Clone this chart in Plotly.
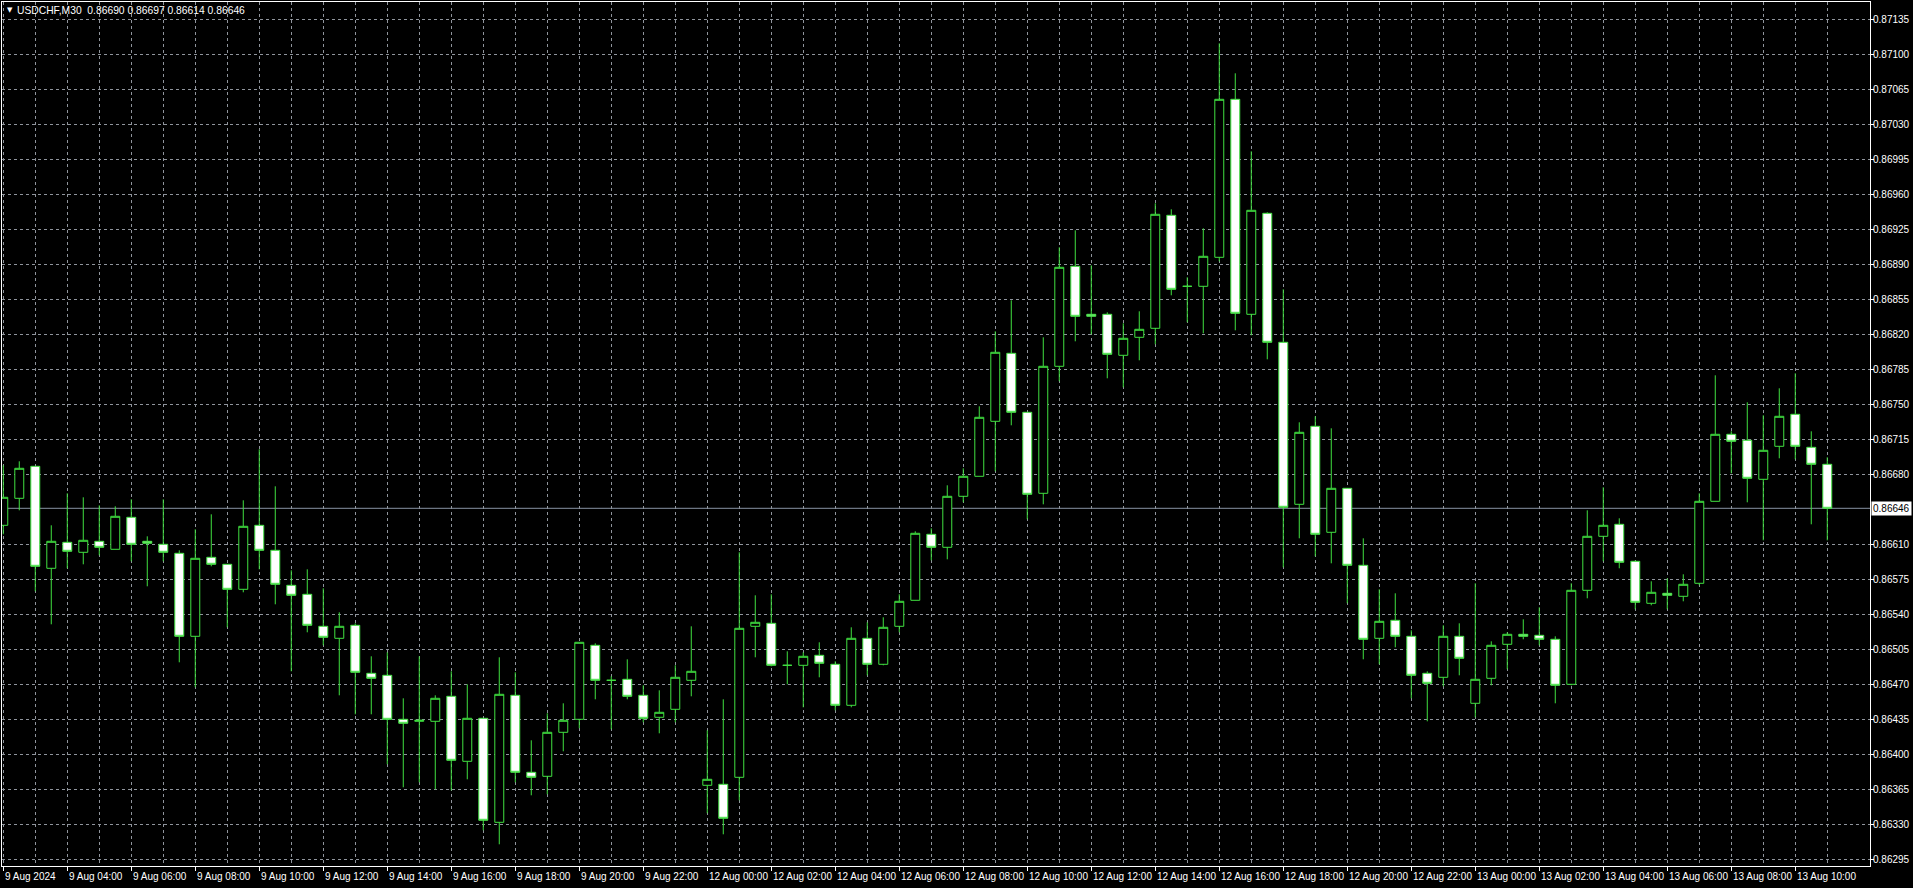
import pandas as pd
import plotly.graph_objects as go

symbol_title = "USDCHF,M30"

# 30-minute bars: Friday 9 Aug 02:00-23:30, then Monday 12 Aug 00:00 - Tuesday 13 Aug 11:00
session1 = pd.date_range("2024-08-09 02:00", "2024-08-09 23:30", freq="30min")
session2 = pd.date_range("2024-08-12 00:00", "2024-08-13 11:00", freq="30min")
bar_times = list(session1) + list(session2)

open_ = [0.86629, 0.86656, 0.86688, 0.86586, 0.86612, 0.86602, 0.86613, 0.86605, 0.86637, 0.86613,
         0.86610, 0.86601, 0.86518, 0.86597, 0.86590, 0.86565, 0.86629, 0.86604, 0.86569, 0.86560,
         0.86528, 0.86516, 0.86529, 0.86481, 0.86479, 0.86435, 0.86433, 0.86433, 0.86458, 0.86393,
         0.86436, 0.86332, 0.86459, 0.86382, 0.86378, 0.86422, 0.86435, 0.86509, 0.86474, 0.86475,
         0.86459, 0.86437, 0.86445, 0.86474, 0.86369, 0.86370, 0.86377, 0.86528, 0.86531, 0.86489,
         0.86489, 0.86499, 0.86490, 0.86449, 0.86516, 0.86490, 0.86528, 0.86554, 0.86620, 0.86607,
         0.86658, 0.86678, 0.86733, 0.86801, 0.86742, 0.86661, 0.86788, 0.86888, 0.86840, 0.86840,
         0.86799, 0.86817, 0.86826, 0.86939, 0.86868, 0.86868, 0.86897, 0.87055, 0.86840, 0.86941,
         0.86812, 0.86650, 0.86728, 0.86622, 0.86666, 0.86589, 0.86516, 0.86534, 0.86518, 0.86481,
         0.86477, 0.86518, 0.86451, 0.86476, 0.86510, 0.86520, 0.86519, 0.86515, 0.86470, 0.86564,
         0.86618, 0.86630, 0.86593, 0.86551, 0.86561, 0.86558, 0.86571, 0.86653, 0.86720, 0.86714,
         0.86675, 0.86708, 0.86740, 0.86707, 0.86690]
high = [0.86689, 0.86693, 0.86688, 0.86629, 0.86661, 0.86657, 0.86649, 0.86648, 0.86655, 0.86618,
        0.86655, 0.86604, 0.86625, 0.86640, 0.86590, 0.86654, 0.86705, 0.86668, 0.86584, 0.86585,
        0.86566, 0.86542, 0.86531, 0.86498, 0.86502, 0.86456, 0.86498, 0.86459, 0.86483, 0.86470,
        0.86436, 0.86497, 0.86482, 0.86414, 0.86441, 0.86451, 0.86512, 0.86511, 0.86478, 0.86495,
        0.86469, 0.86464, 0.86489, 0.86528, 0.86424, 0.86455, 0.86602, 0.86559, 0.86560, 0.86503,
        0.86502, 0.86512, 0.86493, 0.86527, 0.86532, 0.86537, 0.86560, 0.86623, 0.86626, 0.86669,
        0.86686, 0.86748, 0.86823, 0.86854, 0.86742, 0.86817, 0.86907, 0.86924, 0.86889, 0.86842,
        0.86831, 0.86843, 0.86951, 0.86945, 0.86877, 0.86926, 0.87111, 0.87081, 0.87003, 0.86942,
        0.86865, 0.86732, 0.86738, 0.86726, 0.86666, 0.86616, 0.86565, 0.86561, 0.86524, 0.86483,
        0.86529, 0.86531, 0.86571, 0.86513, 0.86522, 0.86535, 0.86547, 0.86518, 0.86571, 0.86644,
        0.86667, 0.86636, 0.86594, 0.86573, 0.86576, 0.86580, 0.86661, 0.86779, 0.86723, 0.86752,
        0.86739, 0.86766, 0.86781, 0.86723, 0.86697]
low = [0.86620, 0.86644, 0.86563, 0.86530, 0.86586, 0.86590, 0.86599, 0.86605, 0.86593, 0.86568,
       0.86593, 0.86492, 0.86467, 0.86588, 0.86527, 0.86562, 0.86585, 0.86550, 0.86483, 0.86522,
       0.86509, 0.86459, 0.86440, 0.86440, 0.86390, 0.86367, 0.86372, 0.86365, 0.86364, 0.86375,
       0.86324, 0.86310, 0.86372, 0.86359, 0.86360, 0.86403, 0.86426, 0.86455, 0.86425, 0.86455,
       0.86432, 0.86421, 0.86432, 0.86458, 0.86341, 0.86320, 0.86354, 0.86497, 0.86488, 0.86470,
       0.86447, 0.86477, 0.86444, 0.86447, 0.86479, 0.86489, 0.86522, 0.86554, 0.86594, 0.86595,
       0.86652, 0.86678, 0.86683, 0.86729, 0.86635, 0.86650, 0.86773, 0.86813, 0.86820, 0.86776,
       0.86767, 0.86794, 0.86810, 0.86859, 0.86832, 0.86821, 0.86893, 0.86824, 0.86819, 0.86795,
       0.86587, 0.86616, 0.86598, 0.86591, 0.86551, 0.86495, 0.86490, 0.86507, 0.86456, 0.86433,
       0.86468, 0.86479, 0.86437, 0.86469, 0.86485, 0.86515, 0.86509, 0.86451, 0.86469, 0.86556,
       0.86593, 0.86586, 0.86545, 0.86549, 0.86545, 0.86553, 0.86569, 0.86653, 0.86681, 0.86652,
       0.86614, 0.86696, 0.86695, 0.86630, 0.86614]
close = [0.86657, 0.86686, 0.86588, 0.86613, 0.86603, 0.86614, 0.86607, 0.86638, 0.86610, 0.86611,
         0.86602, 0.86518, 0.86596, 0.86590, 0.86565, 0.86628, 0.86604, 0.86570, 0.86559, 0.86529,
         0.86517, 0.86528, 0.86482, 0.86476, 0.86435, 0.86431, 0.86434, 0.86456, 0.86394, 0.86436,
         0.86334, 0.86460, 0.86382, 0.86377, 0.86422, 0.86434, 0.86512, 0.86474, 0.86474, 0.86458,
         0.86436, 0.86442, 0.86477, 0.86483, 0.86375, 0.86336, 0.86526, 0.86532, 0.86489, 0.86489,
         0.86498, 0.86491, 0.86449, 0.86516, 0.86490, 0.86527, 0.86553, 0.86621, 0.86607, 0.86658,
         0.86678, 0.86737, 0.86802, 0.86742, 0.86660, 0.86788, 0.86887, 0.86838, 0.86838, 0.86800,
         0.86816, 0.86825, 0.86940, 0.86865, 0.86868, 0.86898, 0.87055, 0.86841, 0.86944, 0.86812,
         0.86647, 0.86722, 0.86620, 0.86666, 0.86589, 0.86515, 0.86533, 0.86518, 0.86479, 0.86471,
         0.86518, 0.86496, 0.86475, 0.86509, 0.86520, 0.86518, 0.86515, 0.86469, 0.86564, 0.86618,
         0.86629, 0.86592, 0.86552, 0.86562, 0.86559, 0.86570, 0.86653, 0.86720, 0.86713, 0.86676,
         0.86704, 0.86738, 0.86708, 0.86690, 0.86646]

price_ticks = [0.86295, 0.86330, 0.86365, 0.86400, 0.86435, 0.86470, 0.86505, 0.86540, 0.86575,
               0.86610, 0.86680, 0.86715, 0.86750, 0.86785, 0.86820, 0.86855, 0.86890,
               0.86925, 0.86960, 0.86995, 0.87030, 0.87065, 0.87100, 0.87135]

GREEN = "#40E040"
GRID = "#8f949c"
FONT = "Liberation Sans"

n = len(bar_times)
x = list(range(n))
hover = [t.strftime("%Y.%m.%d %H:%M") for t in bar_times]

fig = go.Figure()
fig.add_trace(go.Candlestick(
    x=x, open=open_, high=high, low=low, close=close,
    increasing=dict(line=dict(color=GREEN, width=1), fillcolor="black"),
    decreasing=dict(line=dict(color=GREEN, width=1), fillcolor="white"),
    whiskerwidth=0, hovertext=hover, hoverinfo="text", showlegend=False,
))

# time labels every 2 hours (4 bars), grid every hour (2 bars)
label_idx = list(range(0, n, 4))
label_txt = []
for k in label_idx:
    t = bar_times[k]
    if k == 0:
        label_txt.append(f"{t.day} {t.strftime('%b %Y')}")
    else:
        label_txt.append(f"{t.day} {t.strftime('%b %H:%M')}")
grid_idx = list(range(2, n + 2, 4))

for k, txt in zip(label_idx, label_txt):
    fig.add_annotation(x=k, y=0, xref="x", yref="paper", text=txt, showarrow=False,
                       xanchor="left", yanchor="top", xshift=0, yshift=-3,
                       font=dict(family=FONT, size=10, color="white"))

last_close = close[-1]
fig.add_shape(type="line", xref="paper", x0=0, x1=1, yref="y", y0=last_close, y1=last_close,
              line=dict(color="#8893a3", width=1), layer="below")
fig.add_annotation(x=1, xref="paper", y=last_close, yref="y", text=f"{last_close:.5f}",
                   showarrow=False, xanchor="left", xshift=1, bgcolor="white",
                   font=dict(family=FONT, size=10, color="black"), borderpad=1)

title_txt = (f"{symbol_title}  {open_[-1]:.5f} {high[-1]:.5f} {low[-1]:.5f} {close[-1]:.5f}")
fig.add_annotation(x=0, xref="paper", y=1, yref="paper", text="▼", showarrow=False,
                   xanchor="left", yanchor="top", xshift=3, yshift=-2,
                   font=dict(family="DejaVu Sans", size=7, color="white"))
fig.add_annotation(x=0, xref="paper", y=1, yref="paper", text=title_txt, showarrow=False,
                   xanchor="left", yanchor="top", xshift=13, yshift=-1,
                   font=dict(family=FONT, size=10.3, color="white"))

fig.update_layout(
    template="none",
    width=1913, height=888,
    margin=dict(l=2, r=43, t=2, b=22, pad=0),
    paper_bgcolor="black", plot_bgcolor="black",
    boxgap=0.44, boxgroupgap=0,
    hovermode="closest",
    xaxis=dict(
        automargin=False,
        range=[-0.08, 116.67], rangeslider=dict(visible=False),
        tickmode="array", tickvals=label_idx, showticklabels=False,
        ticks="outside", ticklen=4, tickcolor="white", tickwidth=1,
        showgrid=True, gridcolor=GRID, griddash="3px,3px", gridwidth=1,
        minor=dict(tickvals=grid_idx, showgrid=True, gridcolor=GRID, griddash="3px,3px",
                   gridwidth=1, ticks=""),
        showline=True, linecolor="white", linewidth=1, mirror=True, zeroline=False,
        fixedrange=True,
    ),
    yaxis=dict(
        automargin=False,
        side="right", range=[0.862883, 0.871523],
        tickmode="array", tickvals=price_ticks, tickformat=".5f",
        ticks="outside", ticklen=3, tickcolor="white", tickwidth=1,
        ticklabelstandoff=-3,
        tickfont=dict(family=FONT, size=10, color="white"),
        showgrid=True, gridcolor=GRID, griddash="3px,3px", gridwidth=1,
        showline=True, linecolor="white", linewidth=1, mirror=True, zeroline=False,
        fixedrange=True,
    ),
)

fig.write_html("out.html", config={"displayModeBar": False},
               post_script="document.body.style.margin='0px';document.body.style.background='black';")
